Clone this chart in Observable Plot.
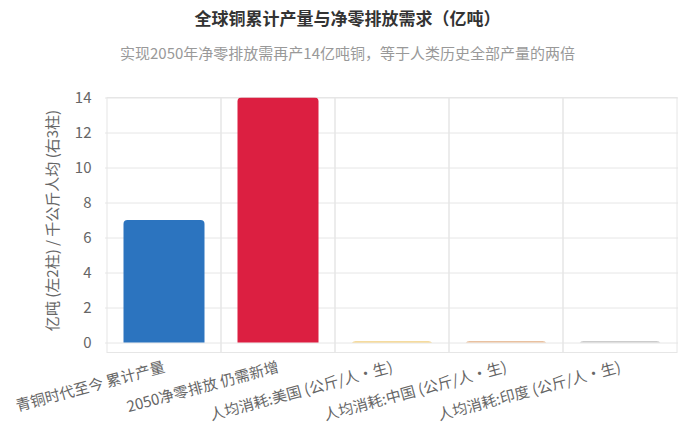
<!DOCTYPE html>
<html>
<head>
<meta charset="utf-8">
<script src="https://cdn.jsdelivr.net/npm/d3@7"></script>
<script src="https://cdn.jsdelivr.net/npm/@observablehq/plot@0.6"></script>
<style>
  html, body { margin: 0; padding: 0; background: #fff; }
  body { width: 695px; height: 430px; overflow: hidden; font-family: "Noto Sans CJK SC", "Noto Sans", sans-serif; }
  #title { height: 36px; line-height: 36px; text-align: center; font-size: 17px; font-weight: bold; color: #333; }
  #subtitle { height: 34px; line-height: 34px; text-align: center; font-size: 15px; color: #999; }
</style>
</head>
<body>
<div id="title">全球铜累计产量与净零排放需求（亿吨）</div>
<div id="subtitle">实现2050年净零排放需再产14亿吨铜，等于人类历史全部产量的两倍</div>
<div id="chart"></div>
<script>
const categories = [
  "青铜时代至今 累计产量",
  "2050净零排放 仍需新增",
  "人均消耗:美国 (公斤/人・生)",
  "人均消耗:中国 (公斤/人・生)",
  "人均消耗:印度 (公斤/人・生)"
];
const values = [7, 14, 0.07, 0.08, 0.09];
const barColors = ["#2c74bf", "#dc1f41", "#f2cf80", "#e9c1a0", "#cccccc"];
const yTicks = [0, 2, 4, 6, 8, 10, 12, 14];
const yLabel = "亿吨 (左2柱) / 千公斤人均 (右3柱)";

const data = categories.map((c, i) => ({cat: c, value: values[i]}));
const yMax = d3.max(yTicks);

const chart = Plot.plot({
  width: 695,
  height: 360,
  marginTop: 27.5,
  marginBottom: 87.5,
  marginLeft: 105,
  marginRight: 17,
  style: {fontFamily: "'Noto Sans CJK SC', 'Noto Sans', sans-serif", background: "#fff"},
  x: {domain: categories, padding: 0},
  y: {domain: [0, yMax], ticks: yTicks},
  color: {domain: categories, range: barColors},
  marks: [
    Plot.gridY(yTicks, {stroke: "#e6e6e6", strokeOpacity: 1}),
    Plot.barY(categories, {x: d => d, y1: 0, y2: yMax, fill: "none", stroke: "#e6e6e6", insetBottom: -10}),
    Plot.barY(data, {x: "cat", y: "value", fill: "cat", insetLeft: 16.5, insetRight: 16.5, rx: 4, insetBottom: -6, clip: true}),
    Plot.axisY(yTicks, {tickSize: 0, tickPadding: 14, fontSize: 15, color: "#666", label: yLabel, labelAnchor: "center", labelOffset: 58, labelArrow: "none"}),
    Plot.axisX({tickSize: 0, tickRotate: -15, tickPadding: 24, fontSize: 15, color: "#666", label: null})
  ]
});
document.getElementById("chart").appendChild(chart);
</script>
</body>
</html>
